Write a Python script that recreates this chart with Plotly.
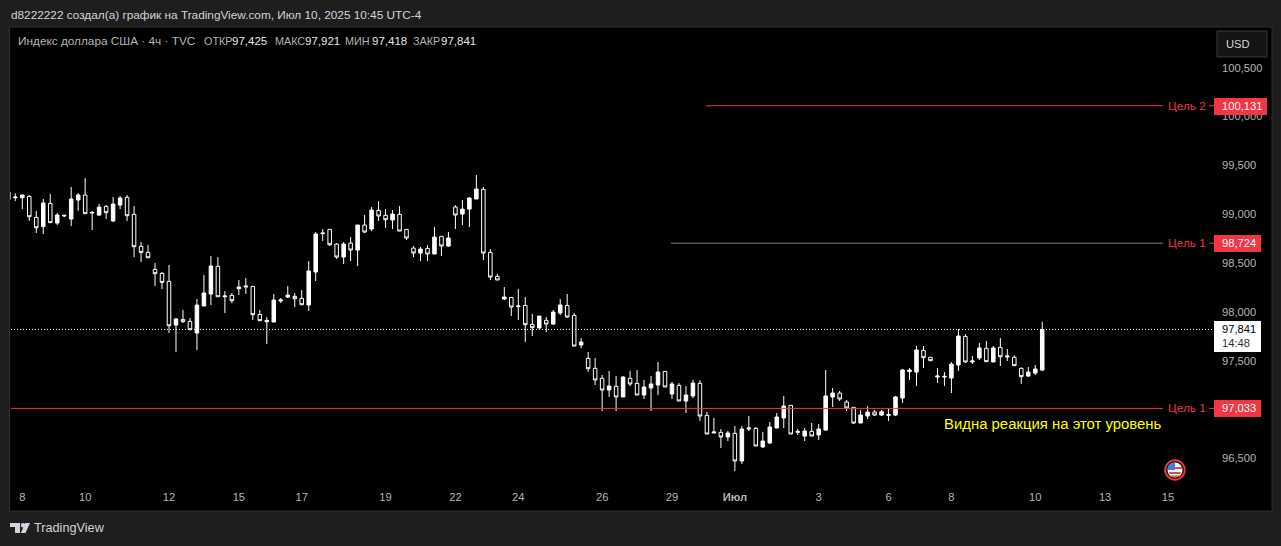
import plotly.graph_objects as go

PAGE_BG = "#1e1e1e"
FRAME = "#2e2e2e"
RED = "#f23645"
WHITE = "#ffffff"
TICK = "#b4b4b4"
FONT = "Liberation Sans"

opens = [99.247, 99.189, 99.189, 99.203, 98.988, 98.893, 99.131, 98.930, 99.002, 98.971, 99.166, 99.217, 99.033, 99.012, 99.101, 98.951,
         99.114, 99.193, 99.019, 98.691, 98.630, 98.456, 98.415, 98.333, 97.886, 97.944, 97.924, 97.804, 98.081, 98.204, 98.487,
         98.176, 98.190, 98.258, 98.275, 98.282, 97.995, 97.920, 97.917, 98.132, 98.173, 98.180, 98.159, 98.091, 98.429, 98.821,
         98.865, 98.715, 98.582, 98.725, 98.654, 98.910, 98.869, 99.060, 99.009, 98.961, 99.019, 98.865, 98.674, 98.623, 98.671,
         98.613, 98.794, 98.695, 99.094, 99.022, 99.073, 99.176, 99.275, 98.630, 98.384, 98.152, 98.169, 98.074, 98.087, 97.893,
         97.855, 97.934, 97.896, 98.009, 98.087, 97.985, 97.682, 97.545, 97.443, 97.341, 97.221, 97.259, 97.150, 97.341, 97.289,
         97.170, 97.242, 97.272, 97.412, 97.180, 97.269, 97.109, 97.160, 97.289, 96.962, 96.781, 96.788, 96.740, 96.778, 96.495,
         96.822, 96.829, 96.638, 96.679, 96.832, 96.935, 97.064, 96.788, 96.750, 96.798, 96.761, 96.812, 97.150, 97.190, 97.098,
         97.044, 96.883, 96.955, 96.996, 96.965, 96.962, 96.965, 97.139, 97.409, 97.405, 97.627, 97.556, 97.354, 97.354, 97.344,
         97.477, 97.770, 97.508, 97.549, 97.648, 97.508, 97.658, 97.559, 97.556, 97.443, 97.364, 97.395, 97.425]
highs = [99.260, 99.234, 99.217, 99.217, 99.053, 99.176, 99.227, 99.033, 99.009, 99.299, 99.237, 99.391, 99.053, 99.125, 99.114, 99.196,
         99.207, 99.217, 99.104, 98.736, 98.705, 98.521, 98.429, 98.500, 97.958, 98.040, 97.958, 98.152, 98.398, 98.592, 98.582,
         98.234, 98.214, 98.347, 98.367, 98.282, 98.040, 97.968, 98.204, 98.163, 98.285, 98.214, 98.244, 98.541, 98.838, 98.869,
         98.865, 98.725, 98.736, 98.787, 98.910, 99.012, 99.094, 99.155, 99.073, 99.063, 99.104, 98.865, 98.695, 98.685, 98.705,
         98.889, 98.794, 98.838, 99.114, 99.166, 99.196, 99.421, 99.299, 98.664, 98.408, 98.275, 98.169, 98.255, 98.173, 97.999,
         97.978, 97.968, 98.040, 98.152, 98.204, 98.009, 97.753, 97.610, 97.549, 97.375, 97.416, 97.365, 97.365, 97.416, 97.426,
         97.324, 97.365, 97.508, 97.412, 97.303, 97.293, 97.262, 97.324, 97.324, 96.996, 96.935, 96.822, 96.802, 96.853, 96.853,
         96.955, 96.843, 96.791, 96.894, 96.986, 97.160, 97.064, 96.822, 96.832, 96.884, 96.873, 97.426, 97.242, 97.211, 97.119,
         97.044, 97.016, 97.057, 97.016, 97.016, 97.027, 97.160, 97.436, 97.446, 97.672, 97.672, 97.556, 97.446, 97.405, 97.508,
         97.846, 97.794, 97.569, 97.702, 97.723, 97.672, 97.753, 97.641, 97.576, 97.453, 97.457, 97.477, 97.921]
lows = [99.150, 99.155, 99.073, 98.951, 98.828, 98.818, 98.934, 98.910, 98.992, 98.900, 99.053, 99.026, 98.859, 99.002, 98.971, 98.940,
        99.073, 98.951, 98.582, 98.531, 98.575, 98.285, 98.255, 97.804, 97.610, 97.907, 97.838, 97.630, 98.081, 98.091, 98.176,
        98.009, 98.111, 98.193, 98.204, 97.937, 97.927, 97.692, 97.917, 98.111, 98.163, 98.070, 98.091, 98.030, 98.337, 98.746,
        98.695, 98.562, 98.511, 98.541, 98.490, 98.828, 98.848, 98.951, 98.879, 98.869, 98.848, 98.756, 98.582, 98.541, 98.541,
        98.613, 98.592, 98.685, 98.869, 98.910, 98.889, 99.176, 98.551, 98.347, 98.347, 98.142, 97.978, 97.937, 97.712, 97.774,
        97.855, 97.815, 97.886, 97.988, 97.958, 97.671, 97.651, 97.405, 97.272, 97.006, 97.150, 97.006, 97.150, 97.262, 97.170,
        97.129, 97.006, 97.170, 97.252, 97.129, 97.109, 96.986, 97.139, 96.904, 96.771, 96.781, 96.628, 96.699, 96.392, 96.464,
        96.802, 96.648, 96.628, 96.669, 96.832, 96.832, 96.771, 96.761, 96.699, 96.750, 96.710, 96.802, 97.047, 97.109, 97.006,
        96.873, 96.883, 96.924, 96.955, 96.955, 96.904, 96.955, 97.088, 97.324, 97.262, 97.446, 97.521, 97.293, 97.262, 97.190,
        97.416, 97.498, 97.487, 97.528, 97.508, 97.508, 97.467, 97.518, 97.470, 97.283, 97.354, 97.375, 97.418]
closes = [99.172, 99.196, 99.217, 98.995, 98.882, 99.135, 98.934, 99.012, 99.009, 99.176, 99.217, 99.026, 99.039, 99.094, 99.036, 99.125,
          99.186, 99.005, 98.688, 98.630, 98.575, 98.412, 98.323, 97.879, 97.948, 97.920, 97.838, 98.091, 98.214, 98.490, 98.176,
          98.183, 98.135, 98.275, 98.285, 97.992, 97.931, 97.934, 98.142, 98.142, 98.193, 98.156, 98.094, 98.439, 98.818, 98.828,
          98.708, 98.582, 98.715, 98.654, 98.910, 98.838, 99.063, 99.002, 98.964, 99.022, 98.848, 98.777, 98.623, 98.664, 98.613,
          98.787, 98.695, 98.777, 99.012, 99.073, 99.186, 99.278, 98.623, 98.377, 98.347, 98.173, 98.070, 98.081, 97.890, 97.859,
          97.978, 97.896, 98.019, 98.091, 97.968, 97.671, 97.712, 97.440, 97.324, 97.221, 97.262, 97.150, 97.354, 97.283, 97.170,
          97.252, 97.283, 97.405, 97.252, 97.283, 97.109, 97.170, 97.293, 96.955, 96.771, 96.791, 96.740, 96.781, 96.495, 96.822,
          96.832, 96.648, 96.699, 96.843, 96.945, 97.057, 96.771, 96.798, 96.802, 96.750, 96.822, 97.160, 97.191, 97.129, 97.037,
          96.883, 96.965, 96.996, 96.965, 96.999, 96.969, 97.150, 97.426, 97.426, 97.631, 97.552, 97.521, 97.364, 97.361, 97.487,
          97.774, 97.508, 97.518, 97.651, 97.511, 97.651, 97.562, 97.569, 97.470, 97.358, 97.405, 97.436, 97.841]
bars = list(range(-1, len(opens) - 1))

y_ticks = [96.5, 97.5, 98.0, 98.5, 99.0, 99.5, 100.0, 100.5]
y_labels = ["96,500", "97,500", "98,000", "98,500", "99,000", "99,500", "100,000", "100,500"]
x_ticks = [1, 10, 22, 32, 41, 53, 63, 72, 84, 94, 103, 115, 125, 134, 146, 156, 165]
x_labels = ["8", "10", "12", "15", "17", "19", "22", "24", "26", "29", "<b>Июл</b>", "3", "6", "8", "10", "13", "15"]

last_close = 97.841
target_2 = 100.131
target_1_up = 98.724
target_1_low = 97.033

# plot area in page pixels
LEFT, RIGHT, TOP, BOTTOM = 10, 1212, 28, 485

def px(x):
    return (x - LEFT) / (RIGHT - LEFT)

def py(y):
    return (BOTTOM - y) / (BOTTOM - TOP)

def box(x0, y0, x1, y1, color, line=None, layer="above"):
    return dict(type="rect", xref="paper", yref="paper", x0=px(x0), x1=px(x1), y0=py(y0), y1=py(y1),
                fillcolor=color, line=dict(color=line or color, width=1 if line else 0), layer=layer)

def level(price, x0, x1, color, dash="solid"):
    return dict(type="line", xref="paper", yref="y", x0=px(x0), x1=px(x1), y0=price, y1=price,
                line=dict(color=color, width=1, dash=dash))

def shape_path(points, color):
    d = "M" + " L".join(f"{px(x):.5f},{py(y):.5f}" for x, y in points) + " Z"
    return dict(type="path", xref="paper", yref="paper", path=d, fillcolor=color, line=dict(width=0), layer="above")

def circle(cx, cy, r, color):
    return dict(type="circle", xref="paper", yref="paper", x0=px(cx - r), x1=px(cx + r), y0=py(cy - r), y1=py(cy + r),
                fillcolor=color, line=dict(width=0), layer="above")

def note(x, y, text, color, size=11.2, anchor="left"):
    return dict(xref="paper", yref="paper", x=px(x), y=py(y), text=text, showarrow=False, xanchor=anchor, yanchor="middle",
                font=dict(family=FONT, size=size, color=color), borderpad=0, borderwidth=0)

fig = go.Figure(go.Candlestick(
    x=bars, open=opens, high=highs, low=lows, close=closes,
    increasing=dict(line=dict(color=WHITE, width=1), fillcolor=WHITE),
    decreasing=dict(line=dict(color=WHITE, width=1), fillcolor="#000000"),
    whiskerwidth=0, showlegend=False, hoverinfo="skip",
))

shapes = [
    box(9.5, 27, 1272, 511, "#000000", FRAME, layer="below"),
    level(last_close, 11, 1212, WHITE, "1px,2px"),
    level(target_2, 706, 1163, RED),
    level(target_2, 1209, 1214, RED),
    level(target_1_up, 671, 1163, "#787b86"),
    level(target_1_up, 1209, 1214, RED),
    level(target_1_low, 11, 1163, RED),
    level(target_1_low, 1209, 1214, RED),
    box(1214, 98, 1267, 115, RED),
    box(1214, 235, 1261, 252, RED),
    box(1214, 400, 1261, 417, RED),
    box(1214, 321, 1261, 352, WHITE),
    box(1217, 31, 1267, 57, "#141414", "#3a3a3a"),
    # flag marker
    circle(1175, 470, 10.7, RED),
    circle(1175, 470, 9, "#1a1a1a"),
    circle(1175, 470, 7.5, "#f5f5f5"),
    shape_path([(1169, 472), (1181, 472), (1180, 474), (1170, 474)], "#e5484d"),
    shape_path([(1175, 467), (1182.3, 467), (1182.4, 469), (1175, 469)], "#e5484d"),
    shape_path([(1168, 475.5), (1182, 475.5), (1179, 477), (1171, 477)], "#e5484d"),
    shape_path([(1168, 466), (1170.5, 463.5), (1175, 462.5), (1175, 470), (1167.6, 470)], "#3f7fe0"),
    # logo
    shape_path([(10, 523), (20, 523), (20, 533), (15, 533), (15, 527), (10, 527)], "#d1d4dc"),
    circle(23, 525.3, 2.2, "#d1d4dc"),
    shape_path([(30, 523), (25.5, 533), (20.8, 533), (25.2, 523)], "#d1d4dc"),
]

annotations = [
    note(11, 15, "d8222222 создал(а) график на TradingView.com, Июл 10, 2025 10:45 UTC-4", "#d1d4dc", size=11.8),
    note(18, 41, "Индекс доллара США · 4ч · TVC", TICK, size=11.8),
    note(204, 41, "ОТКР", TICK, size=10.8), note(232, 41, "97,425", "#e6e6e6", size=11.5),
    note(275, 41, "МАКС", TICK, size=10.8), note(305, 41, "97,921", "#e6e6e6", size=11.5),
    note(345, 41, "МИН", TICK, size=10.8), note(372, 41, "97,418", "#e6e6e6", size=11.5),
    note(413, 41, "ЗАКР", TICK, size=10.8), note(441, 41, "97,841", "#e6e6e6", size=11.5),
    note(1168, 106, "Цель 2", RED, size=11.8), note(1168, 243, "Цель 1", RED, size=11.8), note(1168, 408, "Цель 1", RED, size=11.8),
    note(1222, 106, "100,131", WHITE), note(1222, 243, "98,724", WHITE), note(1222, 408, "97,033", WHITE),
    note(1222, 329, "97,841", "#000000"), note(1222, 343, "14:48", "#333333"),
    note(1238, 44, "USD", "#d1d4dc", anchor="center"),
    note(944, 424, "Видна реакция на этот уровень", "#ffff00", size=14.9),
    note(34, 528, "TradingView", "#d1d4dc", size=12.7),
]

fig.update_layout(
    width=1281, height=546, autosize=False,
    margin=dict(l=LEFT, r=1281 - RIGHT, t=TOP, b=546 - BOTTOM),
    paper_bgcolor=PAGE_BG, plot_bgcolor="rgba(0,0,0,0)",
    font=dict(family=FONT, size=11.2, color=TICK),
    boxgap=0.28, showlegend=False,
    shapes=shapes, annotations=annotations,
)
fig.update_xaxes(
    range=[-0.76, 171.3], tickmode="array", tickvals=x_ticks, ticktext=x_labels,
    showgrid=False, zeroline=False, showline=False, ticks="", rangeslider=dict(visible=False),
    ticklabelstandoff=4,
)
fig.update_yaxes(
    range=[96.249, 100.9265], tickmode="array", tickvals=y_ticks, ticktext=y_labels, side="right",
    showgrid=False, zeroline=False, showline=False, ticks="", ticklabelstandoff=9, ticklabelshift=-2,
)

# the page default body margin would push the chart 8px off
fig.write_html("out.html", config={"displayModeBar": False},
               post_script="document.body.style.margin='0';document.body.style.background='#1e1e1e';")
